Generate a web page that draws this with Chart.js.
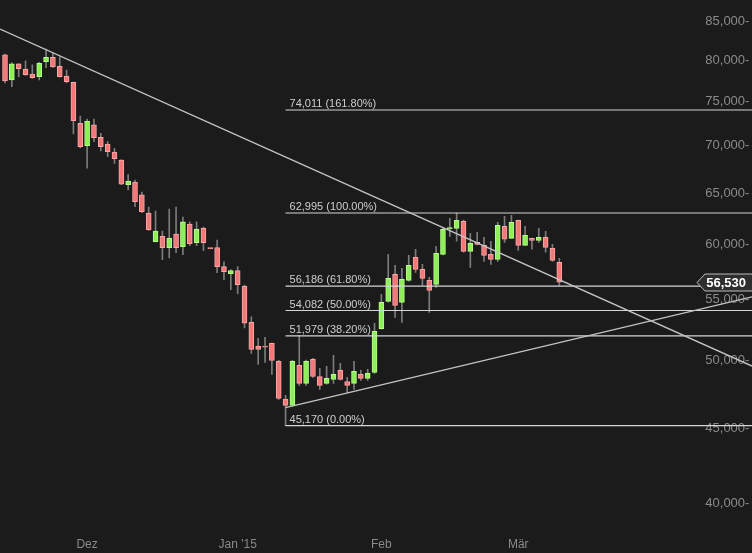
<!DOCTYPE html>
<html>
<head>
<meta charset="utf-8">
<script src="https://cdn.jsdelivr.net/npm/chart.js@4.4.1/dist/chart.umd.min.js"></script>
<style>
html, body { margin: 0; padding: 0; background: #1c1b1b; overflow: hidden; }
#wrap { width: 752px; height: 553px; }
</style>
</head>
<body>
<div id="wrap"><canvas id="grafica"></canvas></div>
<script>
const opens = [80670,77570,79540,78910,78300,77970,79830,80380,79250,78060,
  77290,72490,69990,72300,70920,70180,69300,68440,65850,66120,
  64800,63000,60230,60740,59670,60960,59760,61920,60140,61530,
  59640,59670,57920,57290,57560,56190,53090,51130,51130,51370,
  49950,47080,46620,49640,48250,50100,48780,48250,48550,49250,
  48400,48250,48940,48630,49090,52560,54860,57230,54770,56690,
  58770,57680,56690,56340,59050,61470,61500,62180,59330,60170,
  59890,59050,58590,61700,60550,62280,59890,60550,60360,60650,
  59610,58310];
const highs = [80790,79700,79600,79920,79420,79750,81420,80920,80420,78790,
  77330,73320,72980,72980,71360,70430,69710,68500,66910,66330,
  65100,63590,63190,61250,63390,63590,62600,62120,62120,61630,
  59640,60390,58370,57650,57920,56280,53560,51780,51860,51400,
  50030,47360,50030,52020,50050,50180,49400,49560,50420,49790,
  48710,49950,49250,49330,53010,55470,59050,58040,57770,58960,
  59520,58130,56960,59800,61600,62480,62995,62310,61030,61120,
  60650,60270,62090,62670,62770,62310,61700,60580,61500,61220,
  59990,58680];
const lows = [77210,76770,77940,78140,77750,77570,79080,79100,77900,77210,
  71290,69740,67560,70430,69410,68800,68090,65850,65300,63620,
  63030,61300,60200,58550,58730,59200,59010,59850,59850,59380,
  59560,57380,56750,55870,55520,52620,50570,49710,49870,48940,
  47060,45170,46550,48100,48100,48710,47800,48200,48250,48500,
  47580,47800,48480,48480,49020,52530,54800,53510,53090,56630,
  57410,56250,53930,56080,58990,60740,60270,59260,57860,59920,
  58400,58130,58400,60170,60530,59420,59870,59520,60170,59240,
  58400,56250];
const closes = [77450,79540,78950,78220,77850,79630,80380,79170,77970,77370,
  72780,69880,72710,70880,69880,69340,68580,65890,66230,64120,
  63120,61370,61250,59670,60580,59670,62120,60040,61440,60140,
  59580,57920,57470,57560,56310,53030,50890,50890,51070,50030,
  47130,46620,49950,48250,49950,48780,48100,48630,48940,48550,
  48100,49170,48630,49020,52340,54770,56870,54520,56780,58040,
  57680,56870,55810,59140,61410,61530,62280,59330,60080,59980,
  58960,58590,61800,60460,62090,59890,60840,60360,60650,59700,
  58490,56530];

// x-Achse: Handelstage als Index
const xMin = -0.73, xMax = 109.16;
const monatIdx = [12, 34, 55, 75];
const monatLabels = ["Dez", "Jan '15", "Feb", "Mär"];

const yTicks = [40000,45000,50000,55000,60000,65000,70000,75000,80000,85000];
const yMin = 37970, yMax = 87910;

// Fibonacci
const fibStart = 41;
const fibLevels = [45170, 51979, 54082, 56186, 62995, 74011];
const fibPct = ["0.00%", "38.20%", "50.00%", "61.80%", "100.00%", "161.80%"];

// Trendlinien
const trendAbX = [xMin, xMax];
const trendAbY = [84010, 49580];
const trendAufX = [41, xMax];
const trendAufY = [46465, 55258];

const fmt = v => v.toLocaleString('en-US');

const ROT = '#f07a7a', ROT_RAND = '#ffa3a3';
const GRUEN = '#8fef5a', GRUEN_RAND = '#b4ff85';
const istAuf = i => closes[i] >= opens[i];

const fibDatasets = fibLevels.map(v => ({
  type: 'line',
  data: [{x: fibStart, y: v}, {x: xMax, y: v}],
  borderColor: '#d6d6d6',
  borderWidth: 1.2,
  pointRadius: 0,
  order: 0
}));

const fondo = {
  id: 'fondo',
  beforeDraw(c) {
    const g = c.ctx;
    g.save();
    g.fillStyle = '#1c1b1b';
    g.fillRect(0, 0, c.width, c.height);
    g.restore();
  }
};

const fibTexte = {
  id: 'fibTexte',
  afterDatasetsDraw(c) {
    const g = c.ctx, xs = c.scales.x, ys = c.scales.y;
    g.save();
    g.font = '11px "Liberation Sans", Arial, sans-serif';
    g.fillStyle = '#cdcdcd';
    g.textBaseline = 'alphabetic';
    const x0 = xs.getPixelForValue(fibStart) + 4;
    fibLevels.forEach((v, i) => {
      g.fillText(fmt(v) + ' (' + fibPct[i] + ')', x0, ys.getPixelForValue(v) - 3);
    });
    g.restore();
  }
};

const kursFahne = {
  id: 'kursFahne',
  afterDraw(c) {
    const g = c.ctx, ys = c.scales.y;
    const last = closes[closes.length - 1];
    const y = Math.round(ys.getPixelForValue(last)) + 0.5;
    const r = c.width;
    g.save();
    g.beginPath();
    g.moveTo(r - 55, y);
    g.lineTo(r - 47, y - 8.5);
    g.lineTo(r + 1, y - 8.5);
    g.lineTo(r + 1, y + 8.5);
    g.lineTo(r - 47, y + 8.5);
    g.closePath();
    g.fillStyle = '#2e2e2e';
    g.fill();
    g.strokeStyle = '#bdbdbd';
    g.lineWidth = 1;
    g.stroke();
    g.fillStyle = '#ffffff';
    g.font = 'bold 13px "Liberation Sans", Arial, sans-serif';
    g.textAlign = 'right';
    g.textBaseline = 'middle';
    g.fillText(fmt(last), r - 6, y + 1);
    g.restore();
  }
};

Chart.defaults.font.family = '"Liberation Sans", Arial, sans-serif';

new Chart(document.getElementById('grafica'), {
  type: 'line',
  data: {
    datasets: [
      {
        type: 'line',
        data: trendAbX.map((x, i) => ({x: x, y: trendAbY[i]})),
        borderColor: '#c4c4c4',
        borderWidth: 1.3,
        pointRadius: 0,
        order: 0
      },
      {
        type: 'line',
        data: trendAufX.map((x, i) => ({x: x, y: trendAufY[i]})),
        borderColor: '#c4c4c4',
        borderWidth: 1.3,
        pointRadius: 0,
        order: 0
      },
      ...fibDatasets,
      {
        type: 'bar',
        data: opens.map((o, i) => ({x: i, y: [lows[i], highs[i]]})),
        backgroundColor: '#7c7c7c',
        barThickness: 1,
        grouped: false,
        order: 3
      },
      {
        type: 'bar',
        data: opens.map((o, i) => ({x: i, y: [o, closes[i]]})),
        backgroundColor: opens.map((o, i) => istAuf(i) ? GRUEN : ROT),
        borderColor: opens.map((o, i) => istAuf(i) ? GRUEN_RAND : ROT_RAND),
        borderWidth: 1,
        borderSkipped: false,
        barThickness: 5,
        minBarLength: 1,
        grouped: false,
        order: 2
      }
    ]
  },
  options: {
    responsive: true,
    maintainAspectRatio: false,
    devicePixelRatio: 1,
    animation: false,
    layout: { padding: 0 },
    plugins: { legend: { display: false }, tooltip: { enabled: false } },
    scales: {
      x: {
        type: 'linear',
        min: xMin,
        max: xMax,
        offset: false,
        bounds: 'data',
        grid: { display: false, drawTicks: false, tickLength: 0 },
        border: { display: false },
        afterBuildTicks: ax => { ax.ticks = monatIdx.map(v => ({value: v})); },
        ticks: {
          autoSkip: false,
          maxRotation: 0,
          padding: 1,
          color: '#8a8a8a',
          font: { size: 12 },
          callback: v => monatLabels[monatIdx.indexOf(v)]
        }
      },
      y: {
        type: 'logarithmic',
        position: 'right',
        min: yMin,
        max: yMax,
        bounds: 'data',
        grid: { display: false, drawTicks: false, tickLength: 0 },
        border: { display: false },
        afterBuildTicks: ax => { ax.ticks = yTicks.map(v => ({value: v})); },
        ticks: {
          mirror: true,
          padding: 0,
          color: '#8a8a8a',
          font: { size: 13, lineHeight: 0 },
          callback: v => fmt(v) + '-\u2009'
        }
      }
    }
  },
  plugins: [fondo, fibTexte, kursFahne]
});
</script>
</body>
</html>
